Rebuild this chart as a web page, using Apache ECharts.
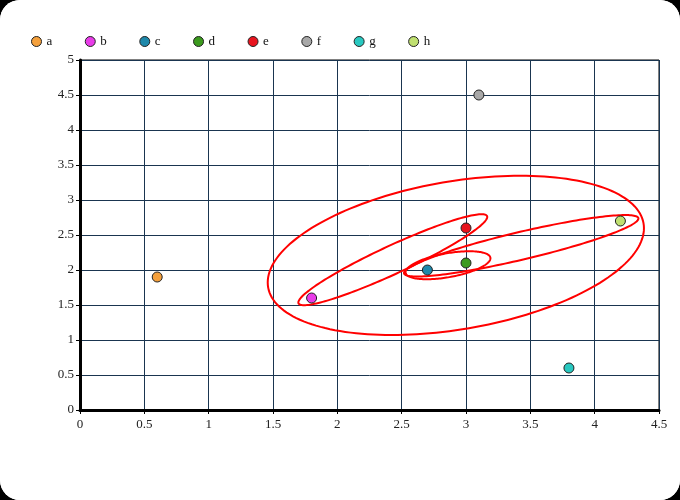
<!DOCTYPE html>
<html>
<head>
<meta charset="utf-8">
<script src="https://cdn.jsdelivr.net/npm/echarts@6/dist/echarts.min.js"></script>
<style>
html,body{margin:0;padding:0;background:#000;}
#wrap{width:680px;height:500px;background:#fff;border-radius:20px;overflow:hidden;}
#chart{width:680px;height:500px;}
</style>
</head>
<body>
<div id="wrap"><div id="chart"></div></div>
<script>
// Points
const categories = ['a', 'b', 'c', 'd', 'e', 'f', 'g', 'h'];
const xValues = [0.6, 1.8, 2.7, 3.0, 3.0, 3.1, 3.8, 4.2];
const yValues = [1.9, 1.6, 2.0, 2.1, 2.6, 4.5, 0.6, 2.7];
const pointColors = ['#f4a03c', '#e83ce8', '#1e88aa', '#3c9a1e', '#e8141e', '#a8a8a8', '#28c8c0', '#c0e070'];

// Ellipses: centre, half x-extent, half y-extent, correlation
const ellipseCx = [2.921, 2.431, 3.429, 2.86];
const ellipseCy = [2.209, 2.147, 2.346, 2.068];
const ellipseRx = [1.462, 0.734, 0.911, 0.33];
const ellipseRy = [1.138, 0.65, 0.439, 0.2];
const ellipseRho = [0.34, 0.94, 0.887, 0.5];

// Axis ticks
const xTicks = [0, 0.5, 1, 1.5, 2, 2.5, 3, 3.5, 4, 4.5];
const yTicks = [0, 0.5, 1, 1.5, 2, 2.5, 3, 3.5, 4, 4.5, 5];

const FONT = '"Liberation Serif", "DejaVu Serif", serif';

const scatterSeries = categories.map((c, i) => ({
  name: c,
  type: 'scatter',
  symbol: 'circle',
  symbolSize: 10,
  z: 5,
  itemStyle: { color: pointColors[i], borderColor: '#222', borderWidth: 1, opacity: 1 },
  data: [[xValues[i], yValues[i]]]
}));

const ellipseData = ellipseCx.map((cx, i) => [cx, ellipseCy[i], ellipseRx[i], ellipseRy[i], ellipseRho[i]]);

const ellipseSeries = {
  type: 'custom',
  name: 'ellipses',
  z: 3,
  silent: true,
  encode: { x: 0, y: 1 },
  data: ellipseData,
  renderItem: function (params, api) {
    const cx = api.value(0), cy = api.value(1), rx = api.value(2), ry = api.value(3), rho = api.value(4);
    const s = Math.sqrt(1 - rho * rho);
    const pts = [];
    const N = 180;
    for (let k = 0; k < N; k++) {
      const t = 2 * Math.PI * k / N;
      const x = cx + rx * Math.cos(t);
      const y = cy + ry * (rho * Math.cos(t) + s * Math.sin(t));
      pts.push(api.coord([x, y]));
    }
    return {
      type: 'polygon',
      shape: { points: pts },
      style: { fill: 'none', stroke: '#ff0000', lineWidth: 2 }
    };
  }
};

const chart = echarts.init(document.getElementById('chart'), null, { renderer: 'canvas' });
chart.setOption({
  backgroundColor: '#fff',
  animation: false,
  textStyle: { fontFamily: FONT },
  legend: {
    data: categories,
    left: 31,
    top: 35,
    padding: 0,
    icon: 'circle',
    itemWidth: 10,
    itemHeight: 10,
    itemGap: 32.5,
    itemStyle: { borderColor: '#222', borderWidth: 1 },
    textStyle: { fontFamily: FONT, fontSize: 13, color: '#111', width: 10, padding: [0, 0, 0, 0] }
  },
  grid: {
    left: 80, right: 21, top: 60, bottom: 90,
    show: true, borderColor: '#000', borderWidth: 1, backgroundColor: 'transparent'
  },
  xAxis: {
    type: 'value', min: xTicks[0], max: xTicks[xTicks.length - 1], interval: 0.5,
    axisLine: { show: true, onZero: false, lineStyle: { color: '#000', width: 3 } },
    axisTick: { show: true, length: 4, lineStyle: { color: '#000', width: 1 } },
    axisLabel: { color: '#222', fontSize: 13, fontFamily: FONT, margin: 8 },
    splitLine: { show: true, lineStyle: { color: '#1a3550', width: 1 } }
  },
  yAxis: {
    type: 'value', min: yTicks[0], max: yTicks[yTicks.length - 1], interval: 0.5,
    axisLine: { show: true, onZero: false, lineStyle: { color: '#000', width: 3 } },
    axisTick: { show: true, length: 4, lineStyle: { color: '#000', width: 1 } },
    axisLabel: { color: '#222', fontSize: 13, fontFamily: FONT, margin: 6 },
    splitLine: { show: true, lineStyle: { color: '#1a3550', width: 1 } }
  },
  series: [ellipseSeries].concat(scatterSeries)
});
</script>
</body>
</html>
